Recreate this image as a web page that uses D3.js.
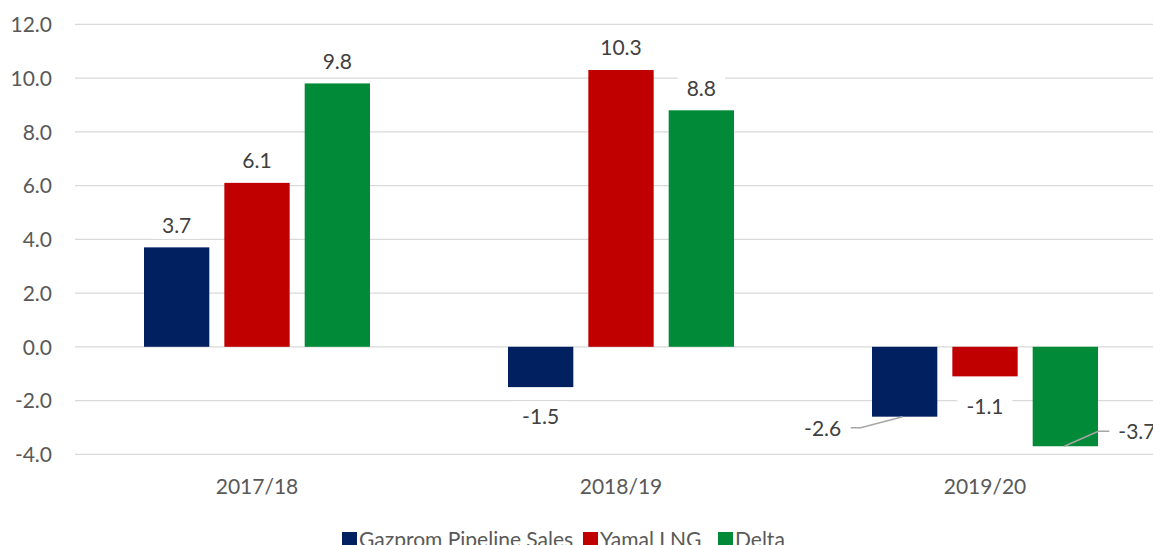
<!DOCTYPE html>
<html><head><meta charset="utf-8">
<script src="https://cdn.jsdelivr.net/npm/d3@7"></script>
<style>html,body{margin:0;padding:0;background:#fff;overflow:hidden}</style>
</head><body><svg id="c" width="1153" height="545"></svg>
<script>
const categories = ["2017/18", "2018/19", "2019/20"];
const seriesNames = ["Gazprom Pipeline Sales", "Yamal LNG", "Delta"];
const gazprom = [3.7, -1.5, -2.6];
const yamal = [6.1, 10.3, -1.1];
const delta = [9.8, 8.8, -3.7];
const yTicks = [-4, -2, 0, 2, 4, 6, 8, 10, 12];
const colors = ["#002060", "#C00000", "#018A37"];

const series = [gazprom, yamal, delta];
const font = "Lato, 'Open Sans', sans-serif";
const fs = 21;
const fmt = v => d3.format(".1f")(v).replace("\u2212", "-");
const svg = d3.select("#c");
const x0 = d3.scaleBand().domain(categories).range([75, 1167]).paddingInner(0).paddingOuter(0);
const x1 = d3.scaleBand().domain(d3.range(3)).range([x0.bandwidth()/2 - 113, x0.bandwidth()/2 + 113]).paddingInner(0.187).paddingOuter(0);
const y = d3.scaleLinear().domain([-4, 12]).range([454.3, 24.3]);

// y axis labels
const yAxis = d3.axisLeft(y).tickValues(yTicks).tickFormat(fmt).tickSize(0).tickPadding(0);
const ga = svg.append("g").attr("transform", "translate(52,0)").call(yAxis);
ga.select(".domain").remove();
ga.selectAll("text").attr("font-family", font).attr("font-size", fs).attr("fill", "#595959").attr("dy", "0.35em");
// gridlines
svg.append("g").selectAll("line").data(yTicks).join("line")
  .attr("x1", 75).attr("x2", 1153).attr("y1", d => y(d)).attr("y2", d => y(d))
  .attr("stroke", "#d9d9d9").attr("stroke-width", 1.3);

// bars
const rows = [];
categories.forEach((c, i) => series.forEach((s, j) => rows.push({c, j, v: s[i]})));
svg.append("g").selectAll("rect").data(rows).join("rect")
  .attr("x", d => x0(d.c) + x1(d.j)).attr("width", x1.bandwidth())
  .attr("y", d => y(Math.max(0, d.v))).attr("height", d => Math.abs(y(d.v) - y(0)))
  .attr("fill", d => colors[d.j]);

// category axis labels
const xAxis = d3.axisBottom(x0).tickSize(0).tickPadding(0);
const gx = svg.append("g").attr("transform", "translate(0,487)").call(xAxis);
gx.select(".domain").remove();
gx.selectAll("text").attr("font-family", font).attr("font-size", fs).attr("fill", "#595959").attr("dy", "0.35em");

// data labels
const labelPos = {
  "0-0": [0, -22], "0-1": [0, -22], "0-2": [0, -22],
  "1-0": [0, 30], "1-1": [0, -22], "1-2": [0, -22],
  "2-0": [-82, 12], "2-1": [0, 30], "2-2": [53, -15]
};
const lg = svg.append("g");
categories.forEach((c, i) => series.forEach((s, j) => {
  const v = s[i];
  const bx = x0(c) + x1(j) + x1.bandwidth()/2;
  const by = y(v);
  const off = labelPos[i + "-" + j];
  const lx = bx + off[0], ly = by + off[1];
  if (i === 2 && j !== 1) {
    const pts = j === 0
      ? [[lx + 28, ly - 1], [lx + 38, ly - 1], [bx - 2, by]]
      : [[bx - 1, by], [bx + 33, ly], [bx + 45, ly]];
    lg.append("path").attr("d", d3.line()(pts)).attr("fill", "none").attr("stroke", "#a6a6a6").attr("stroke-width", 1.5);
  }
  const anchor = (i === 2 && j === 2) ? "start" : "middle";
  const t = lg.append("text").attr("x", lx).attr("y", ly).attr("dy", "0.35em")
    .attr("text-anchor", anchor).attr("font-family", font).attr("font-size", fs).attr("fill", "#404040").text(fmt(v));
  const bb = t.node().getBBox();
  lg.insert("rect", "text:last-child").attr("x", bb.x - 9).attr("y", bb.y - 2).attr("width", bb.width + 18).attr("height", bb.height + 4).attr("fill", "#fff");
}));

// legend
const legX = [342, 583, 718];
const leg = svg.append("g").selectAll("g").data(seriesNames).join("g")
  .attr("transform", (d, i) => `translate(${legX[i]},532)`);
leg.append("rect").attr("width", 15).attr("height", 15).attr("fill", (d, i) => colors[i]);
leg.append("text").attr("x", 17).attr("y", 8).attr("dy", "0.35em").attr("font-family", font).attr("font-size", fs).attr("fill", "#595959").text(d => d);
</script></body></html>
